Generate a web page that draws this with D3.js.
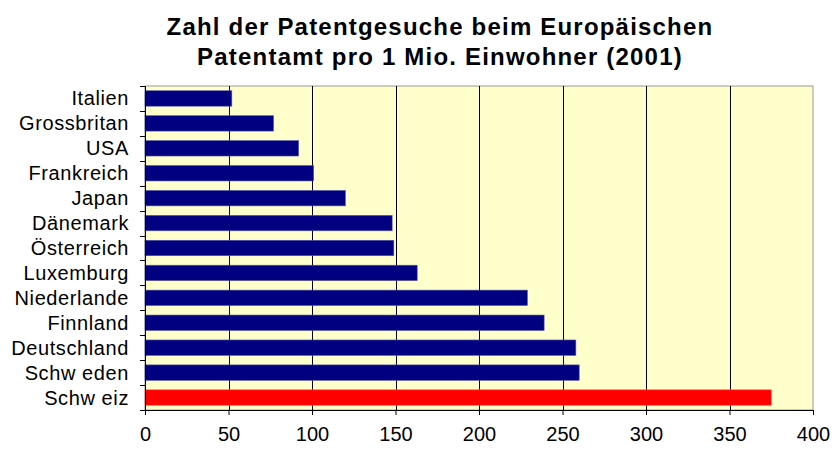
<!DOCTYPE html>
<html>
<head>
<meta charset="utf-8">
<script src="https://cdn.jsdelivr.net/npm/d3@7"></script>
<style>
  body { margin: 0; background: #fff; }
  text { font-family: Arial, "Liberation Sans", sans-serif; fill: #000; }
</style>
</head>
<body>
<svg id="chart" width="832" height="450"></svg>
<script>
// data
const countries = ['Italien', 'Grossbritan', 'USA', 'Frankreich', 'Japan', 'Dänemark', 'Österreich',
  'Luxemburg', 'Niederlande', 'Finnland', 'Deutschland', 'Schw eden', 'Schw eiz'];
const patents = [52, 77, 92, 101, 120, 148, 149, 163, 229, 239, 258, 260, 375];
const highlight = ['Schw eiz'];
const xTicks = [0, 50, 100, 150, 200, 250, 300, 350, 400];
const titleLines = ['Zahl der Patentgesuche beim Europäischen', 'Patentamt pro 1 Mio. Einwohner (2001)'];

const svg = d3.select('#chart');
const margin = { top: 86, right: 19, bottom: 40, left: 145 };
const width = 832, height = 450;
const innerWidth = width - margin.left - margin.right;
const innerHeight = height - margin.top - margin.bottom;

const x = d3.scaleLinear().domain([0, 400]).range([0, innerWidth]);
const y = d3.scaleBand().domain(countries).range([0, innerHeight])
  .paddingInner(0.38).paddingOuter(0.19);

// title
svg.append('g')
  .selectAll('text')
  .data(titleLines)
  .enter()
  .append('text')
  .attr('x', 440)
  .attr('y', (d, i) => 35 + i * 30)
  .attr('text-anchor', 'middle')
  .style('font-size', '24px')
  .style('font-weight', 'bold')
  .style('letter-spacing', '1.2px')
  .text(d => d);

const g = svg.append('g').attr('transform', `translate(${margin.left},${margin.top})`);

// plot area
g.append('rect')
  .attr('width', innerWidth)
  .attr('height', innerHeight)
  .attr('fill', '#FFFFCC')
  .attr('stroke', '#999')
  .attr('stroke-width', 1);

// gridlines
g.selectAll('.grid')
  .data(xTicks.slice(1, -1))
  .enter()
  .append('line')
  .attr('x1', d => Math.round(x(d)) + 0.5)
  .attr('x2', d => Math.round(x(d)) + 0.5)
  .attr('y1', 0)
  .attr('y2', innerHeight)
  .attr('stroke', '#000');

// bars
g.selectAll('.bar')
  .data(countries)
  .enter()
  .append('rect')
  .attr('x', 0)
  .attr('y', d => y(d))
  .attr('width', (d, i) => x(patents[i]))
  .attr('height', y.bandwidth())
  .attr('fill', d => highlight.includes(d) ? '#FF0000' : '#000080')
  .attr('stroke', d => highlight.includes(d) ? '#ff6060' : '#5a5aa8')
  .attr('stroke-width', 0.6);

// x axis
const xAxis = d3.axisBottom(x).tickValues(xTicks).tickSize(5).tickPadding(12);
g.append('g')
  .attr('transform', `translate(0,${innerHeight})`)
  .call(xAxis)
  .call(a => a.select('.domain').attr('stroke', '#000'))
  .call(a => a.selectAll('text').style('font-size', '20px').style('font-family', 'Arial, "Liberation Sans", sans-serif'));

// y axis: ticks sit between categories
const step = innerHeight / countries.length;
const yAxisG = g.append('g');
yAxisG.append('line')
  .attr('x1', 0.5).attr('x2', 0.5)
  .attr('y1', 0).attr('y2', innerHeight)
  .attr('stroke', '#000');
yAxisG.selectAll('.ytick')
  .data(d3.range(countries.length + 1))
  .enter()
  .append('line')
  .attr('x1', -5).attr('x2', 0)
  .attr('y1', d => Math.round(d * step) + 0.5)
  .attr('y2', d => Math.round(d * step) + 0.5)
  .attr('stroke', '#000');
yAxisG.selectAll('.ylabel')
  .data(countries)
  .enter()
  .append('text')
  .attr('x', -16)
  .attr('y', d => y(d) + y.bandwidth() / 2)
  .attr('dy', '0.35em')
  .attr('text-anchor', 'end')
  .style('font-size', '20px')
  .style('letter-spacing', '0.6px')
  .text(d => d);
</script>
</body>
</html>
